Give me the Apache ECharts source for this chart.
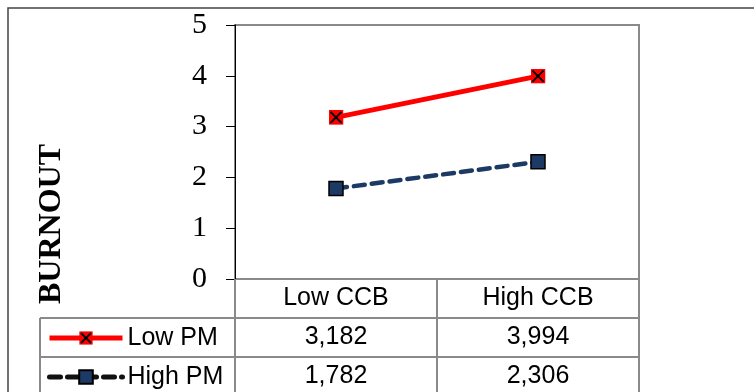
<!DOCTYPE html>
<html><head><meta charset="utf-8">
<script src="https://cdn.jsdelivr.net/npm/echarts@6/dist/echarts.min.js"></script>
<style>html,body{margin:0;padding:0;background:#fff}#c{width:754px;height:392px}</style>
</head><body><div id="c"></div>
<script>
const categories = ['Low CCB', 'High CCB'];
const seriesNames = ['Low PM', 'High PM'];
const lowPM = [3.182, 3.994];
const highPM = [1.782, 2.306];
const yTicks = [0, 1, 2, 3, 4, 5];
const axisTitle = 'BURNOUT';

function fmt(v) { return v.toFixed(3).replace('.', ','); }

const xSvg = 'data:image/svg+xml;utf8,' + encodeURIComponent(
  '<svg xmlns="http://www.w3.org/2000/svg" width="15" height="15" viewBox="0 0 15 15">' +
  '<rect x="0" y="0" width="15" height="15" fill="#ff0000"/>' +
  '<path d="M2 2L13 13M13 2L2 13" stroke="#000" stroke-width="2"/></svg>');

const navy = '#1c3a63';
const gridCol = '#8a8a8a';
const chart = echarts.init(document.getElementById('c'), null, { renderer: 'canvas' });

const tableFont = 25;
const legendText = { fontFamily: 'Liberation Sans', fontSize: tableFont, color: '#000', lineHeight: 24 };
const rowH = 39;

chart.setOption({
  animation: false,
  backgroundColor: '#fff',
  grid: { left: 235, top: 25, width: 404, height: 254, show: true, borderColor: gridCol, borderWidth: 2, backgroundColor: 'transparent' },
  xAxis: {
    type: 'category', data: categories, boundaryGap: true,
    axisLine: { show: false }, axisTick: { show: false }, splitLine: { show: false },
    axisLabel: { fontFamily: 'Liberation Sans', fontSize: tableFont, color: '#000', margin: 19.5, verticalAlign: 'middle' }
  },
  yAxis: {
    type: 'value', min: 0, max: 5, interval: 1,
    axisLine: { show: true, lineStyle: { color: '#000', width: 1 } },
    axisTick: { show: true, inside: false, length: 9, lineStyle: { color: '#000', width: 1 } },
    splitLine: { show: false },
    axisLabel: { fontFamily: 'Liberation Serif', fontSize: 30, color: '#000', margin: 28,
      formatter: v => yTicks.includes(v) ? String(v) : '' }
  },
  legend: [
    { left: 47, top: 337.5 - 12, padding: 0, itemWidth: 73, itemHeight: 17, itemGap: 6, selectedMode: false,
      data: [seriesNames[0]], textStyle: legendText, lineStyle: { width: 5 } },
    { left: 47, top: 337.5 + rowH - 12, padding: 0, itemWidth: 73, itemHeight: 17, itemGap: 6, selectedMode: false,
      data: [seriesNames[1]], textStyle: legendText, lineStyle: { width: 5, color: '#111' } }
  ],
  series: [
    { name: seriesNames[0], type: 'line', data: lowPM, symbol: 'image://' + xSvg, symbolSize: 15,
      lineStyle: { color: '#ff0000', width: 5 }, itemStyle: { color: '#ff0000' }, z: 3 },
    { name: seriesNames[1], type: 'line', data: highPM, symbol: 'rect', symbolSize: 14,
      lineStyle: { color: navy, width: 4.5, type: [11, 7], cap: 'round' },
      itemStyle: { color: navy, borderColor: '#000', borderWidth: 1.5 }, z: 3 }
  ]
});

// table built from axis scales
const xc = categories.map((_, i) => chart.convertToPixel({ xAxisIndex: 0 }, i));
const band = xc[1] - xc[0];
const leftEdge = xc[0] - band / 2, rightEdge = xc[xc.length - 1] + band / 2;
const yBase = chart.convertToPixel({ yAxisIndex: 0 }, 0);
const tableLeft = 40;
const bottom = 400;
const g = [];
const line = (x1, y1, x2, y2) => g.push({ type: 'line', shape: { x1, y1, x2, y2 }, style: { stroke: gridCol, lineWidth: 2 }, z: 1 });
const bounds = [leftEdge];
for (let i = 0; i < xc.length - 1; i++) bounds.push((xc[i] + xc[i + 1]) / 2);
bounds.push(rightEdge);
bounds.forEach(x => line(x, yBase, x, bottom));
line(tableLeft, yBase + rowH, tableLeft, bottom);
[1, 2, 3].forEach(r => line(tableLeft, yBase + rowH * r, rightEdge, yBase + rowH * r));
[lowPM, highPM].forEach((arr, r) => {
  arr.forEach((v, i) => g.push({ type: 'text', x: xc[i], y: yBase + rowH * (r + 1.5),
    style: { text: fmt(v), fontFamily: 'Liberation Sans', fontSize: tableFont, fill: '#000', align: 'center', verticalAlign: 'middle' }, z: 5 }));
});
g.push({ type: 'text', x: 52, y: 224, rotation: Math.PI / 2,
  style: { text: axisTitle, fontFamily: 'Liberation Serif', fontWeight: 'bold', fontSize: 32, fill: '#000', align: 'center', verticalAlign: 'middle' }, z: 5 });
g.push({ type: 'rect', shape: { x: 8, y: 8, width: 900, height: 600 }, style: { fill: 'none', stroke: '#444', lineWidth: 1.5 }, z: 0 });
chart.setOption({ graphic: g });
</script></body></html>
